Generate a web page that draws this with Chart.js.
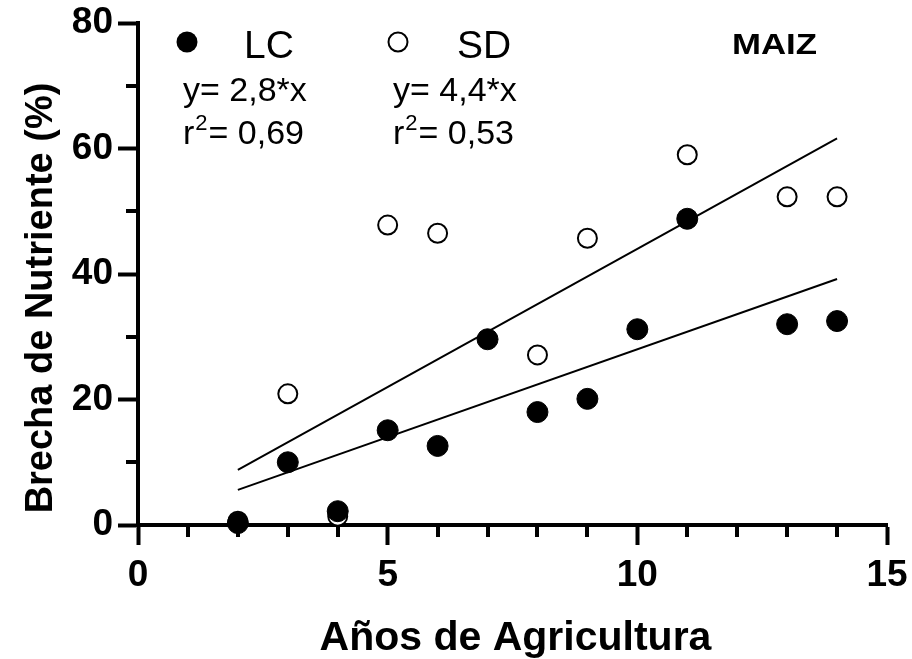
<!DOCTYPE html>
<html>
<head>
<meta charset="utf-8">
<script src="https://cdn.jsdelivr.net/npm/chart.js@4.4.1/dist/chart.umd.min.js"></script>
<style>
html,body{margin:0;padding:0;background:#fff;}
#wrap{width:912px;height:659px;position:relative;}
</style>
</head>
<body>
<div id="wrap"><canvas id="c"></canvas></div>
<script>
// ---- data ----
const lcX = [2, 3, 4, 5, 6, 7, 8, 9, 10, 11, 13, 14];
const lcY = [0.3, 10.0, 2.2, 15.1, 12.6, 29.6, 18.0, 20.1, 31.2, 48.8, 32.0, 32.5];
const sdX = [2, 3, 4, 5, 6, 8, 9, 11, 13, 14];
const sdY = [0.6, 20.9, 1.4, 47.8, 46.5, 27.1, 45.7, 59.0, 52.3, 52.3];
const fitX = [2, 14];
const lcFitY = [5.6, 39.2];
const sdFitY = [8.8, 61.6];
const xTicksMajor = [0, 5, 10, 15];
const yTicksMajor = [0, 20, 40, 60, 80];
const xTicksMinor = [1, 2, 3, 4, 6, 7, 8, 9, 11, 12, 13, 14];
const yTicksMinor = [10, 30, 50, 70];
const seriesNames = ['LC', 'SD'];
const equations = ['y= 2,8*x', 'y= 4,4*x'];
const r2Values = ['0,69', '0,53'];
const panelLabel = 'MAIZ';
const xTitle = 'Años de Agricultura';
const yTitle = 'Brecha de Nutriente (%)';

const FONT = '"Liberation Sans", Arial, Helvetica, sans-serif';
const pts = (xs, ys) => xs.map((x, i) => ({x: x, y: ys[i]}));

const extras = {
  id: 'extras',
  afterDraw(chart) {
    const ctx = chart.ctx;
    const xs = chart.scales.x, ys = chart.scales.y;
    const area = chart.chartArea;
    ctx.save();
    // minor ticks
    ctx.strokeStyle = '#000';
    ctx.lineWidth = 4;
    ctx.lineCap = 'butt';
    xTicksMinor.forEach(v => {
      const px = Math.round(xs.getPixelForValue(v));
      ctx.beginPath(); ctx.moveTo(px, area.bottom); ctx.lineTo(px, area.bottom + 12); ctx.stroke();
    });
    yTicksMinor.forEach(v => {
      const py = Math.round(ys.getPixelForValue(v));
      ctx.beginPath(); ctx.moveTo(area.left, py); ctx.lineTo(area.left - 12, py); ctx.stroke();
    });
    // axis titles
    ctx.fillStyle = '#000';
    ctx.font = 'bold 41px ' + FONT;
    ctx.textAlign = 'center';
    ctx.textBaseline = 'alphabetic';
    ctx.fillText(xTitle, (area.left + area.right) / 2 + 3, 650);
    ctx.save();
    ctx.translate(52, 298);
    ctx.rotate(-Math.PI / 2);
    ctx.font = 'bold 38px ' + FONT;
    ctx.fillText(yTitle, 0, 0);
    ctx.restore();
    // legend
    const legX = [187, 398];
    const nameX = [244, 457];
    const eqX = [183, 393];
    for (let i = 0; i < 2; i++) {
      ctx.beginPath();
      ctx.arc(legX[i], 42, i === 0 ? 10.5 : 9.5, 0, Math.PI * 2);
      if (i === 0) { ctx.fillStyle = '#000'; ctx.fill(); }
      else { ctx.fillStyle = '#fff'; ctx.fill(); ctx.lineWidth = 2; ctx.strokeStyle = '#000'; ctx.stroke(); }
      ctx.fillStyle = '#000';
      ctx.textAlign = 'left';
      ctx.font = '39px ' + FONT;
      ctx.fillText(seriesNames[i], nameX[i], 58);
      ctx.font = '34px ' + FONT;
      ctx.fillText(equations[i], eqX[i], 101);
      ctx.fillText('r', eqX[i], 144);
      const rw = ctx.measureText('r').width;
      ctx.font = '22px ' + FONT;
      ctx.fillText('2', eqX[i] + rw + 1, 130);
      const sw = ctx.measureText('2').width;
      ctx.font = '34px ' + FONT;
      ctx.fillText('= ' + r2Values[i], eqX[i] + rw + sw + 2, 144);
    }
    ctx.save();
    ctx.translate(732, 54);
    ctx.scale(1.2, 1);
    ctx.font = 'bold 29px ' + FONT;
    ctx.fillText(panelLabel, 0, 0);
    ctx.restore();
    ctx.restore();
  }
};

new Chart(document.getElementById('c'), {
  type: 'scatter',
  data: {
    datasets: [
      { label: seriesNames[0], data: pts(lcX, lcY), order: 1, clip: false,
        pointStyle: 'circle', pointRadius: 10.5, pointBackgroundColor: '#000', pointBorderColor: '#000', pointBorderWidth: 1 },
      { label: seriesNames[1], data: pts(sdX, sdY), order: 2, clip: false,
        pointStyle: 'circle', pointRadius: 9.5, pointBackgroundColor: '#fff', pointBorderColor: '#000', pointBorderWidth: 2 },
      { type: 'line', label: 'fitLC', data: pts(fitX, lcFitY), order: 3, borderColor: '#000', borderWidth: 2, pointRadius: 0, fill: false },
      { type: 'line', label: 'fitSD', data: pts(fitX, sdFitY), order: 3, borderColor: '#000', borderWidth: 2, pointRadius: 0, fill: false }
    ]
  },
  options: {
    responsive: true,
    maintainAspectRatio: false,
    animation: false,
    layout: { padding: { top: 23, right: 25, left: 0, bottom: 0 } },
    plugins: { legend: { display: false }, tooltip: { enabled: false } },
    scales: {
      x: {
        type: 'linear', min: 0, max: 15,
        afterFit(s) { s.height = 134; s.paddingLeft = 0; s.paddingRight = 0; },
        afterBuildTicks(s) { s.ticks = xTicksMajor.map(v => ({value: v})); },
        ticks: { color: '#000', font: { family: FONT, weight: 'bold', size: 37 }, padding: 9, maxRotation: 0 },
        grid: { drawOnChartArea: false, drawTicks: true, tickLength: 20, tickWidth: 4, tickColor: '#000' },
        border: { display: true, color: '#000', width: 4 }
      },
      y: {
        type: 'linear', min: 0, max: 80,
        afterFit(s) { s.width = 138; s.paddingTop = 0; s.paddingBottom = 0; },
        afterBuildTicks(s) { s.ticks = yTicksMajor.map(v => ({value: v})); },
        ticks: { color: '#000', font: { family: FONT, weight: 'bold', size: 37 }, padding: 5 },
        grid: { drawOnChartArea: false, drawTicks: true, tickLength: 20, tickWidth: 4, tickColor: '#000' },
        border: { display: true, color: '#000', width: 4 }
      }
    }
  },
  plugins: [extras]
});
</script>
</body>
</html>
